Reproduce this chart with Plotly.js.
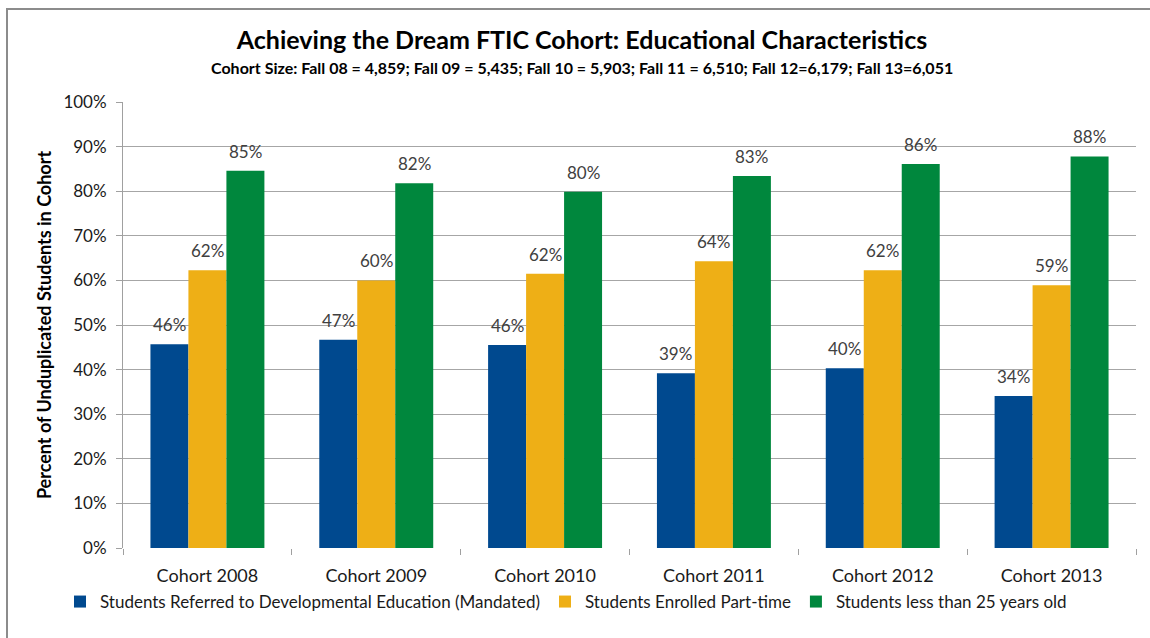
<!DOCTYPE html>
<html>
<head>
<meta charset="utf-8">
<script src="https://cdn.plot.ly/plotly-3.0.1.min.js"></script>
<style>
html,body{margin:0;padding:0;background:#fff;}
#wrap{position:relative;width:1150px;height:638px;}
#chart{position:absolute;left:0;top:0;width:1150px;height:638px;}
#frame{position:absolute;left:6px;top:8px;width:1144px;height:630px;border-top:2px solid #8c8c8c;border-left:2px solid #8c8c8c;pointer-events:none;}
</style>
</head>
<body>
<div id="wrap"><div id="chart"></div><div id="frame"></div></div>
<script>
const categories = ["Cohort 2008","Cohort 2009","Cohort 2010","Cohort 2011","Cohort 2012","Cohort 2013"];
const seriesNames = ["Students Referred to Developmental Education (Mandated)","Students Enrolled Part-time","Students less than 25 years old"];
const developmental = [45.7, 46.7, 45.5, 39.2, 40.3, 34.1];
const partTime = [62.3, 60.0, 61.5, 64.3, 62.3, 58.9];
const under25 = [84.6, 81.8, 79.9, 83.4, 86.1, 87.8];
const yTickVals = [0,10,20,30,40,50,60,70,80,90,100];
const yTickText = ["0%","10%","20%","30%","40%","50%","60%","70%","80%","90%","100%"];
const colors = ["#00498F","#EEAF16","#00873D"];
const titleText = "Achieving the Dream FTIC Cohort: Educational Characteristics";
const subtitleText = "Cohort Size: Fall 08 = 4,859; Fall 09 = 5,435; Fall 10 = 5,903; Fall 11 = 6,510; Fall 12=6,179; Fall 13=6,051";

const FONT = "Lato, 'Noto Sans', sans-serif";
const series = [developmental, partTime, under25];
const traces = series.map((vals, i) => ({
  type: "bar",
  name: seriesNames[i],
  x: categories,
  y: vals,
  marker: {color: colors[i], line: {width: 0}},
  hoverinfo: "x+y+name"
}));

// value labels, positioned by the axes from the data
const BAR_PX = 38;
const annotations = [];
series.forEach((vals, i) => {
  vals.forEach((v, j) => {
    annotations.push({
      x: categories[j], y: v, xref: "x", yref: "y",
      text: Math.round(v) + "%",
      showarrow: false, xanchor: "center", yanchor: "bottom",
      xshift: (i - 1) * BAR_PX, yshift: 7,
      font: {family: FONT, size: 17, color: "#404040"}
    });
  });
});
annotations.push({
  xref: "paper", yref: "paper", x: (582 - 123) / 1013, y: (548 - 67) / 446,
  xanchor: "center", yanchor: "middle", showarrow: false,
  text: "<b>" + subtitleText + "</b>",
  font: {family: FONT, size: 16, color: "#000"}
});

const layout = {
  width: 1150, height: 638,
  margin: {l: 123, r: 14, t: 102, b: 90},
  paper_bgcolor: "#fff", plot_bgcolor: "#fff",
  barmode: "group", bargap: 0.325, bargroupgap: 0,
  font: {family: FONT, color: "#1a1a1a"},
  title: {
    text: "<b>" + titleText + "</b>",
    font: {family: FONT, size: 25, color: "#000"},
    x: 582 / 1150, xanchor: "center", xref: "container", yref: "container", y: 1 - 40/638, yanchor: "middle"
  },
  annotations: annotations,
  xaxis: {
    type: "category",
    showline: false,
    showgrid: false,
    ticks: "outside", tickson: "boundaries", ticklen: 6, tickcolor: "#a0a0a0", tickwidth: 1,
    ticklabelstandoff: 15,
    tickfont: {family: FONT, size: 18, color: "#1a1a1a"},
    fixedrange: true
  },
  yaxis: {
    range: [0, 100],
    tickvals: yTickVals, ticktext: yTickText,
    showline: true, linecolor: "#a0a0a0", linewidth: 1,
    ticks: "outside", ticklen: 6, tickcolor: "#a0a0a0",
    ticklabelstandoff: 6,
    showgrid: true, gridcolor: "#a6a6a6", gridwidth: 1,
    zeroline: false,
    tickfont: {family: FONT, size: 17, color: "#1a1a1a"},
    title: {text: "<b>Percent of Unduplicated Students in Cohort</b>", font: {family: FONT, size: 18, color: "#000"}, standoff: 7},
    fixedrange: true
  },
  legend: {
    orientation: "h", x: 566 / 1150, xref: "container", xanchor: "center",
    y: 1 - 584 / 638, yref: "container", yanchor: "top",
    font: {family: FONT, size: 17, color: "#1a1a1a"},
    traceorder: "normal", itemwidth: 30
  },
  showlegend: true
};

Plotly.newPlot("chart", traces, layout, {displayModeBar: false});
</script>
</body>
</html>
